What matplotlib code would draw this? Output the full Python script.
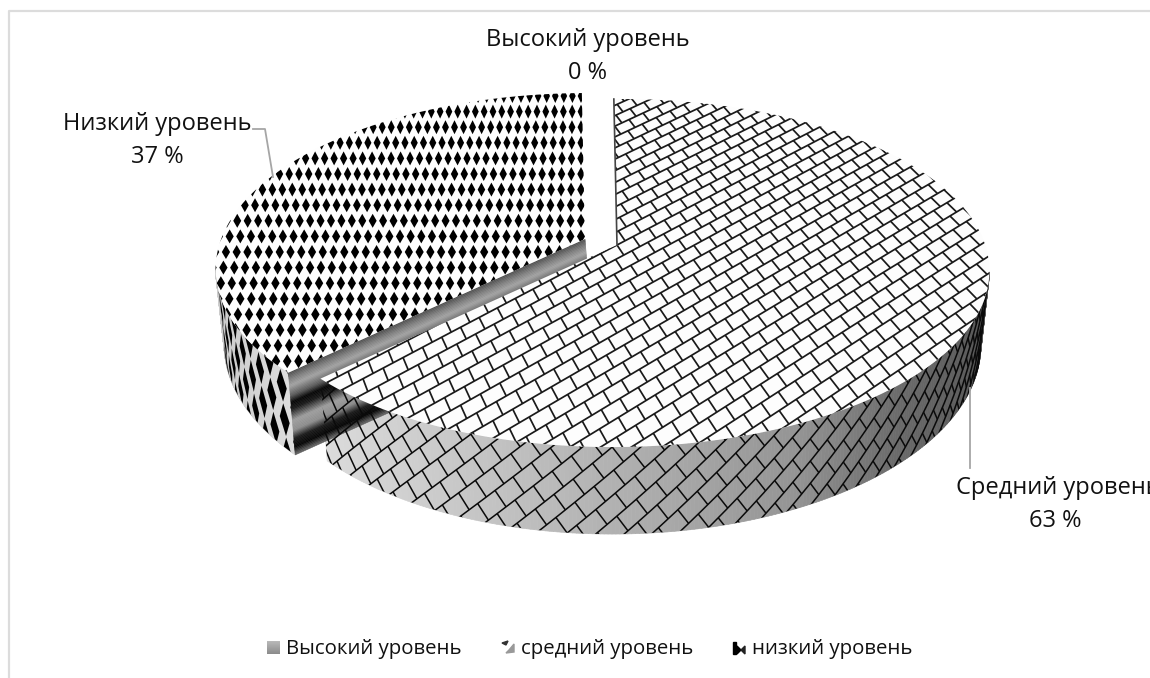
import numpy as np
import matplotlib
matplotlib.use("Agg")
import matplotlib.pyplot as plt
from matplotlib.patches import Polygon
from matplotlib.collections import LineCollection, PolyCollection

plt.rcParams['font.family'] = ['Open Sans', 'DejaVu Sans']

# chart data
legend_names = ["Высокий уровень", "средний уровень", "низкий уровень"]
label_names = ["Высокий уровень", "Средний уровень", "Низкий уровень"]
percents = [0, 63, 37]

# pie geometry, in pixels of the picture
CX, CY = 617, 245
A, B, P = 366, 169.5, 0.161
BEND = 0.006
SLANT = 4
DEPTH = 73
SHRINK = 0.977
START = -1.2
LOW_SHIFT = (-32, -6)

fig = plt.figure(figsize=(11.5, 6.78), dpi=100)
ax = fig.add_axes([0, 0, 1, 1])
ax.set_xlim(0, 1150)
ax.set_ylim(678, 0)
ax.axis("off")


def to_screen(X, Y, shift=(0, 0)):
    # disc coordinates to picture, with perspective
    w = 1 + P * Y
    return CX + (A * (X + BEND * X * X) + SLANT * Y) / w + shift[0], CY - B * Y / w + shift[1]


def rim(deg, z, shift=(0, 0)):
    # point on the side wall: z=0 top rim, z=1 bottom rim
    t = np.radians(deg)
    X, Y = np.sin(t), np.cos(t)
    w = 1 + P * Y
    sx, sy = to_screen(X, Y)
    bx = CX + (sx - CX) * SHRINK
    by = sy + DEPTH / w
    return (1 - z) * sx + z * bx + shift[0], (1 - z) * sy + z * by + shift[1]


def grid_lines(origin, long_step, joint_step, rows, cols, mapper):
    # brick pattern: long lines plus staggered joints
    segs = []
    for i in range(-rows, rows):
        base = origin + i * joint_step
        t = np.linspace(-cols, cols, 160)
        segs.append(np.column_stack(mapper(*(base[:, None] + long_step[:, None] * t))))
        for k in range(-cols, cols):
            s = k + (i % 2) * 0.5
            a = base + s * long_step
            b = a + joint_step
            segs.append(np.column_stack(mapper(*np.array([a, b]).T)))
    return segs


def draw_wall(d0, d1, shift, gray_x, gray_v):
    # only the part of the wall that faces the viewer
    deg = np.linspace(d0, d1, 240)
    tx, ty = rim(deg, 0.0, shift)
    bx, by = rim(deg, 1.0, shift)
    quads = []
    colors = []
    for i in range(len(deg) - 1):
        quads.append([(tx[i], ty[i]), (tx[i + 1], ty[i + 1]), (bx[i + 1], by[i + 1]), (bx[i], by[i])])
        g = np.interp((tx[i] + tx[i + 1]) / 2, gray_x, gray_v)
        colors.append((g, g, g))
    ax.add_collection(PolyCollection(quads, facecolors=colors, edgecolors=colors, linewidths=0.5, zorder=2))
    outline = Polygon(np.vstack([np.column_stack([tx, ty]), np.column_stack([bx, by])[::-1]]),
                      transform=ax.transData, fill=False, edgecolor="none")
    ax.add_patch(outline)
    return outline


def top_polygon(d0, d1, shift):
    deg = np.linspace(d0, d1, 300)
    t = np.radians(deg)
    x, y = to_screen(np.sin(t), np.cos(t), shift)
    ax_x, ax_y = to_screen(0, 0, shift)
    return np.vstack([[ax_x, ax_y], np.column_stack([x, y])])


shares = np.array(percents) / sum(percents) * 360
edges = START + np.concatenate([[0], np.cumsum(shares)])
mid_0, mid_1 = edges[1], edges[2]
low_0, low_1 = edges[2], edges[3]
SIDE_RIGHT, SIDE_LEFT = 99, 261

# frame of the chart area
ax.plot([8.5, 8.5, 1150], [678, 10.5, 10.5], color="#dcdcdc", lw=1.6, zorder=1)

# low slice: wall
clip = draw_wall(low_0, SIDE_LEFT, LOW_SHIFT, [218, 300], [0.80, 0.88])
dia = []
for col, d in enumerate(np.arange(low_0 - 4, SIDE_LEFT + 2, 3.0)):
    for row, z in enumerate(np.arange(-0.2, 1.3, 0.42)):
        zz = z + (col % 2) * 0.21
        x, y = rim(np.array([d - 1.25, d, d + 1.25, d]), np.array([zz, zz - 0.2, zz, zz + 0.2]), LOW_SHIFT)
        dia.append(np.column_stack([x, y]))
pc = PolyCollection(dia, facecolors="black", edgecolors="none", zorder=3)
ax.add_collection(pc)
pc.set_clip_path(clip)

# low slice: cut face with the dark stripes
stops = [0, 0.08, 0.16, 0.28, 0.36, 0.44, 0.58, 0.7, 0.8, 0.9, 1.0]
grays = [0.32, 0.5, 0.64, 0.35, 0.02, 0.1, 0.62, 0.55, 0.1, 0.02, 0.45]
zs = np.linspace(0, 1, 60)
a0 = np.array(to_screen(0, 0, LOW_SHIFT))
d_top = np.array(rim(low_0, 0.0, LOW_SHIFT))
d_bot = np.array(rim(low_0, 1.0, LOW_SHIFT))
a1 = a0 + (d_bot - d_top)
for i in range(len(zs) - 1):
    g = float(np.interp(zs[i], stops, grays))
    q = [a0 + (a1 - a0) * zs[i], d_top + (d_bot - d_top) * zs[i],
         d_top + (d_bot - d_top) * zs[i + 1], a0 + (a1 - a0) * zs[i + 1]]
    ax.add_patch(Polygon(q, facecolor=(g, g, g), edgecolor=(g, g, g), lw=0.4, zorder=4))

# low slice: top, rows keep an even height and columns fan out from the back
low_top = Polygon(top_polygon(low_0, low_1, LOW_SHIFT), facecolor="#fefefe", edgecolor="none", zorder=5)
ax.add_patch(low_top)
dia = []
for y in np.arange(96, 400, 15.6):
    g = np.interp(y, [95, 240, 370], [0.8, 1.0, 1.06])
    for i in range(-36, 2):
        x = 581 + i * 10.7 * g
        hw = 4.1 * g
        dia.append([(x - hw, y), (x, y - 7.0), (x + hw, y), (x, y + 7.0)])
pc = PolyCollection(dia, facecolors="black", edgecolors="none", zorder=6)
ax.add_collection(pc)
pc.set_clip_path(low_top)

# medium slice: wall
clip = draw_wall(SIDE_RIGHT, mid_1, (0, 0), [320, 640, 800, 900, 980, 1000], [0.86, 0.68, 0.58, 0.42, 0.35, 0.33])


def wall_map(d, z):
    d = np.where((d < SIDE_RIGHT) | (d > mid_1 + 2), np.nan, d)
    return rim(d, z)


segs = grid_lines(np.array([180.0, 0.0]), np.array([-2.6, -0.19]), np.array([-1.5, 0.17]), 45, 60, wall_map)
lc = LineCollection(segs, colors="#0a0a0a", linewidths=1.1, zorder=7)
ax.add_collection(lc)
lc.set_clip_path(clip)

# medium slice: top
mid_top = Polygon(top_polygon(mid_0, mid_1, (0, 0)), facecolor="#fdfdfd", edgecolor="none", zorder=8)
ax.add_patch(mid_top)
segs = grid_lines(np.array([0.0, 0.0]), np.array([0.0436, 0.05]), np.array([0.019, -0.059]), 45, 36,
                  lambda X, Y: to_screen(X, Y))
lc = LineCollection(segs, colors="#1a1a1a", linewidths=1.25, zorder=9)
ax.add_collection(lc)
lc.set_clip_path(mid_top)
ex, ey = to_screen(np.sin(np.radians(mid_0)), np.cos(np.radians(mid_0)))
ax.plot([CX, ex], [CY, ey], color="#444444", lw=1.2, zorder=10)

# leader lines
ax.plot([253, 265, 273], [129, 129, 177], color="#a6a6a6", lw=1.3, zorder=11)
ax.plot([970, 970], [388, 468], color="#a6a6a6", lw=1.3, zorder=11)

# data labels
SIZE = 17
label_pos = [(588, 40), (1058, 488), (157, 124)]
pct_x = [588, 1055, 157]
for name, pct, (x, y), px in zip(label_names, percents, label_pos, pct_x):
    ax.text(x, y, name, ha="center", va="center", fontsize=SIZE, color="#111111", zorder=12)
    ax.text(px, y + 33, f"{pct} %", ha="center", va="center", fontsize=SIZE, color="#111111", zorder=12)

# legend
text_x = [286, 521, 752]
for i, name in enumerate(legend_names):
    ax.text(text_x[i], 649, name, ha="left", va="center", fontsize=14.7, color="#111111", zorder=12)
ax.imshow(np.linspace(0.72, 0.55, 13)[:, None], cmap="gray", vmin=0, vmax=1, extent=(267, 280, 654, 641),
          aspect="auto", zorder=12)
ax.set_xlim(0, 1150)
ax.set_ylim(678, 0)
ax.add_patch(Polygon([(502, 643), (508, 641), (506, 645)], color="#333333", zorder=12))
ax.add_patch(Polygon([(509, 650), (514, 644), (514, 652), (506, 653)], color="#999999", zorder=12))
ax.add_patch(Polygon([(733, 642), (736, 642), (736, 654), (733, 654)], color="black", zorder=12))
ax.add_patch(Polygon([(737, 646), (741, 650), (737, 654)], color="black", zorder=12))
ax.add_patch(Polygon([(745, 646), (741, 650), (745, 654)], color="#222222", zorder=12))

fig.savefig("out.png", dpi=100)
